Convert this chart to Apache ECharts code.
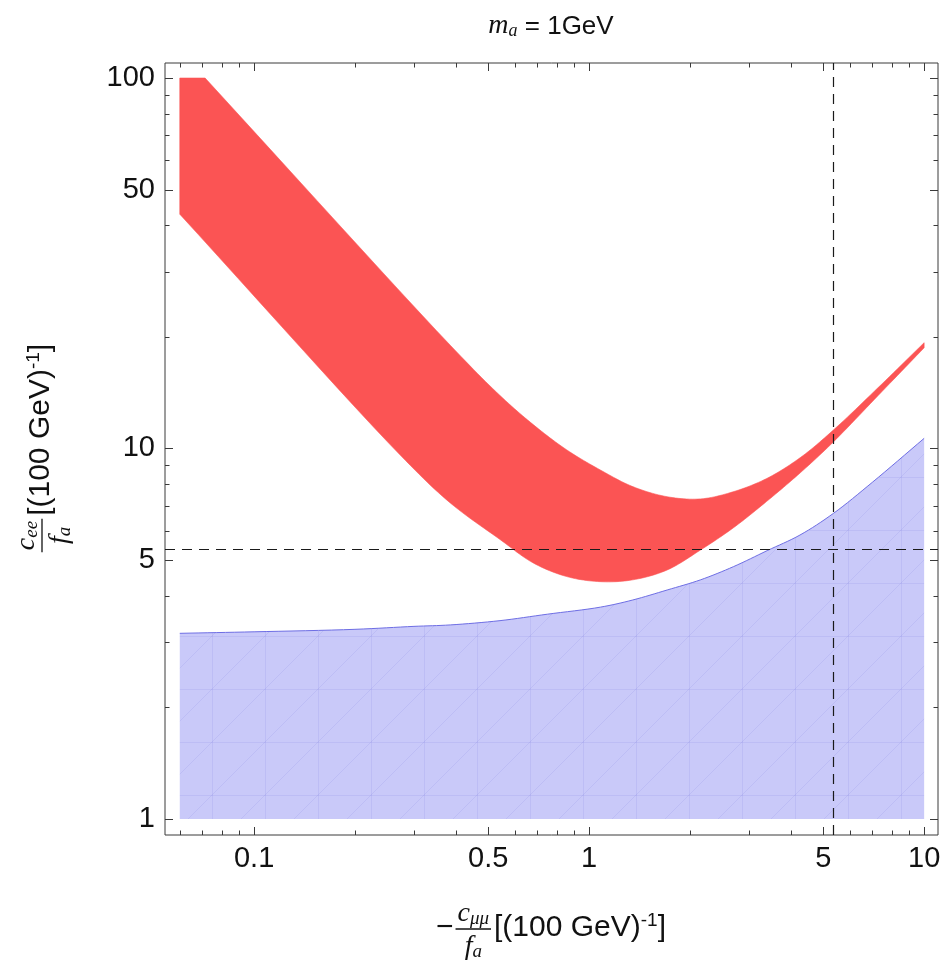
<!DOCTYPE html>
<html>
<head>
<meta charset="utf-8">
<script src="https://cdn.jsdelivr.net/npm/echarts@6/dist/echarts.min.js"></script>
<style>
  html, body { margin: 0; padding: 0; background: #fff; }
  #chart { width: 944px; height: 973px; }
</style>
</head>
<body>
<div id="chart"></div>
<script>
// ---- axis ranges (log10 scales) ----
const xRange = [0.0542, 11.0];
const yRange = [0.905, 109.8];

// ---- tick values ----
const xLabelValues = [0.1, 0.5, 1, 5, 10];
const yLabelValues = [1, 5, 10, 50, 100];
const xMinorTicks = [0.06, 0.07, 0.08, 0.09, 0.2, 0.3, 0.4, 0.6, 0.7, 0.8, 0.9, 2, 3, 4, 6, 7, 8, 9];
const yMinorTicks = [2, 3, 4, 6, 7, 8, 9, 20, 30, 40, 60, 70, 80, 90];

// ---- red band: upper and lower boundaries ----
const redUpperX = [0.06, 0.0714, 0.385, 0.542, 0.681, 0.858, 1.08, 1.35, 1.71, 2.15, 2.69, 3.39, 4.27, 5.35, 7.29, 10];
const redUpperY = [100, 100, 19.0, 13.9, 11.6, 9.91, 8.75, 7.89, 7.41, 7.31, 7.64, 8.30, 9.45, 11.2, 14.6, 19.3];
const redLowerX = [0.06, 0.273, 0.385, 0.542, 0.681, 0.858, 1.08, 1.35, 1.71, 2.15, 2.69, 3.39, 4.27, 5.35, 7.29, 10];
const redLowerY = [42.9, 9.60, 7.13, 5.68, 4.91, 4.51, 4.37, 4.42, 4.70, 5.32, 6.10, 7.20, 8.60, 10.4, 13.9, 18.7];

// ---- blue excluded region: upper boundary, filled down to floor ----
const blueX = [0.06, 0.1, 0.2, 0.3, 0.385, 0.542, 0.75, 1.08, 1.35, 1.71, 2.15, 2.70, 3.4, 4.26, 5.36, 7.0, 10];
const blueY = [3.17, 3.20, 3.25, 3.31, 3.34, 3.43, 3.57, 3.73, 3.90, 4.15, 4.42, 4.80, 5.30, 5.84, 6.68, 8.10, 10.65];
const blueFloor = 1;

// ---- reference lines ----
const refX = 5.35;
const refY = 5.35;

// ---- styling ----
const SANS = '"Liberation Sans", Arial, Helvetica, sans-serif';
const SERIF = '"Liberation Serif", "Times New Roman", serif';
const RED = '#fb5454';
const BLUE_FILL = '#c9c9f9';
const BLUE_EDGE = '#6e6ee4';
const FRAME = '#3a3a3a';

// faint triangulation-like texture for the blue fill
function makeMeshPattern() {
  const s = 53;
  const c = document.createElement('canvas');
  c.width = s; c.height = s;
  const g = c.getContext('2d');
  g.fillStyle = BLUE_FILL;
  g.fillRect(0, 0, s, s);
  g.strokeStyle = 'rgba(120,120,220,0.15)';
  g.lineWidth = 1;
  g.beginPath();
  g.moveTo(0.5, 0); g.lineTo(0.5, s);
  g.moveTo(0, 0.5); g.lineTo(s, 0.5);
  g.moveTo(0, s); g.lineTo(s, 0);
  g.stroke();
  return c;
}
const meshPattern = { image: makeMeshPattern(), repeat: 'repeat' };

// centripetal Catmull-Rom smoothing of pixel polylines (drawing only)
function smoothPath(pts, seg) {
  const n = pts.length;
  if (n < 3) return pts.slice();
  const ext = [
    [2 * pts[0][0] - pts[1][0], 2 * pts[0][1] - pts[1][1]],
    ...pts,
    [2 * pts[n - 1][0] - pts[n - 2][0], 2 * pts[n - 1][1] - pts[n - 2][1]]
  ];
  const knot = (a, b) => Math.max(Math.sqrt(Math.hypot(b[0] - a[0], b[1] - a[1])), 1e-6);
  const lerp = (a, b, ta, tb, t) => {
    const u = (t - ta) / (tb - ta);
    return [a[0] + (b[0] - a[0]) * u, a[1] + (b[1] - a[1]) * u];
  };
  const out = [pts[0]];
  for (let i = 1; i < ext.length - 2; i++) {
    const p0 = ext[i - 1], p1 = ext[i], p2 = ext[i + 1], p3 = ext[i + 2];
    const t0 = 0, t1 = t0 + knot(p0, p1), t2 = t1 + knot(p1, p2), t3 = t2 + knot(p2, p3);
    for (let k = 1; k <= seg; k++) {
      const t = t1 + (t2 - t1) * k / seg;
      const a1 = lerp(p0, p1, t0, t1, t), a2 = lerp(p1, p2, t1, t2, t), a3 = lerp(p2, p3, t2, t3, t);
      const b1 = lerp(a1, a2, t0, t2, t), b2 = lerp(a2, a3, t1, t3, t);
      out.push(lerp(b1, b2, t1, t2, t));
    }
  }
  return out;
}

function toPixels(api, xs, ys) {
  return xs.map((x, i) => api.coord([x, ys[i]]));
}

// text measuring for composing the axis titles
const measureCtx = document.createElement('canvas').getContext('2d');
function textWidth(font, s) { measureCtx.font = font; return measureCtx.measureText(s).width; }

const BIG = 30, VAR = 28, SUB = 19, SUP = 19;
const fracRich = {
  v: { fontFamily: SERIF, fontStyle: 'italic', fontSize: VAR, lineHeight: 30, verticalAlign: 'bottom', fill: '#111' },
  s: { fontFamily: SERIF, fontStyle: 'italic', fontSize: SUB, lineHeight: 14, verticalAlign: 'bottom', fill: '#111' }
};
const unitRich = {
  n: { fontFamily: SANS, fontSize: BIG, lineHeight: 34, fill: '#111' },
  p: { fontFamily: SANS, fontSize: SUP, lineHeight: 14, verticalAlign: 'top', fill: '#111' }
};
const unitText = '{n|[(100 GeV)}{p|-1}{n|]}';
const unitWidth = textWidth(BIG + 'px ' + SANS, '[(100 GeV)') + textWidth(SUP + 'px ' + SANS, '-1') + textWidth(BIG + 'px ' + SANS, ']');

function fracWidth(numVar, numSub, denVar, denSub) {
  const it = 'italic ';
  const nw = textWidth(it + VAR + 'px ' + SERIF, numVar) + textWidth(it + SUB + 'px ' + SERIF, numSub);
  const dw = textWidth(it + VAR + 'px ' + SERIF, denVar) + textWidth(it + SUB + 'px ' + SERIF, denSub);
  return Math.max(nw, dw) + 4;
}

function textEl(x, y, text, rich, align, valign) {
  return {
    type: 'text', x: x, y: y, silent: true,
    style: { text: text, rich: rich, align: align, textAlign: align, verticalAlign: valign, textVerticalAlign: valign, fill: '#111' }
  };
}

// builds "[sign] num/den [(100 GeV)^-1]" with the fraction bar on y = 0, centered on x = 0
function buildAxisTitle(sign, numVar, numSub, denVar, denSub) {
  const wSign = sign ? textWidth(BIG + 'px ' + SANS, sign) + 2 : 0;
  const wFrac = fracWidth(numVar, numSub, denVar, denSub);
  const total = wSign + wFrac + 3 + unitWidth;
  let x = -total / 2;
  const kids = [];
  if (sign) {
    kids.push(textEl(x, -1, '{n|' + sign + '}', unitRich, 'left', 'middle'));
    x += wSign;
  }
  const cx = x + wFrac / 2;
  kids.push({ type: 'line', silent: true, shape: { x1: x, y1: 0, x2: x + wFrac, y2: 0 }, style: { stroke: '#111', lineWidth: 1.3 } });
  kids.push(textEl(cx, -1, '{v|' + numVar + '}{s|' + numSub + '}', fracRich, 'center', 'bottom'));
  kids.push(textEl(cx, 2, '{v|' + denVar + '}{s|' + denSub + '}', fracRich, 'center', 'top'));
  x += wFrac + 3;
  kids.push(textEl(x, -1, unitText, unitRich, 'left', 'middle'));
  return kids;
}

const fmt = v => String(+Number(v).toPrecision(6));

const chart = echarts.init(document.getElementById('chart'));

chart.setOption({
  animation: false,
  backgroundColor: '#ffffff',
  grid: { left: 165, top: 63, width: 773, height: 772, show: true, borderColor: FRAME, borderWidth: 1, backgroundColor: 'transparent' },
  xAxis: {
    type: 'log', logBase: 10, min: xRange[0], max: xRange[1],
    axisLine: { show: false }, axisTick: { show: false }, splitLine: { show: false },
    axisLabel: { customValues: xLabelValues, formatter: fmt, fontSize: 29, fontFamily: SANS, color: '#111', margin: 9 }
  },
  yAxis: {
    type: 'log', logBase: 10, min: yRange[0], max: yRange[1],
    axisLine: { show: false }, axisTick: { show: false }, splitLine: { show: false },
    axisLabel: { customValues: yLabelValues, formatter: fmt, fontSize: 29, fontFamily: SANS, color: '#111', margin: 10 }
  },
  graphic: [
    {
      type: 'text', x: 551, y: 25, silent: true,
      style: {
        text: '{i|m}{s|a}{n| = 1GeV}',
        align: 'center', textAlign: 'center', verticalAlign: 'middle', textVerticalAlign: 'middle',
        rich: {
          i: { fontFamily: SERIF, fontStyle: 'italic', fontSize: 28, lineHeight: 30, verticalAlign: 'bottom', fill: '#111' },
          s: { fontFamily: SERIF, fontStyle: 'italic', fontSize: 18, lineHeight: 12, verticalAlign: 'bottom', fill: '#111' },
          n: { fontFamily: SANS, fontSize: 26, lineHeight: 30, verticalAlign: 'bottom', fill: '#111' }
        }
      }
    },
    { type: 'group', x: 551, y: 929, children: buildAxisTitle('\u2212', 'c', '\u03bc\u03bc', 'f', 'a') },
    { type: 'group', x: 42, y: 448, rotation: Math.PI / 2, children: buildAxisTitle('', 'c', 'ee', 'f', 'a') }
  ],
  series: [
    {
      // excluded region
      type: 'custom', name: 'excluded', silent: true, z: 1,
      data: blueX.map((x, i) => [x, blueY[i]]),
      renderItem(params, api) {
        if (params.dataIndex !== 0) return null;
        const top = smoothPath(toPixels(api, blueX, blueY), 8);
        const right = api.coord([blueX[blueX.length - 1], blueFloor]);
        const left = api.coord([blueX[0], blueFloor]);
        return {
          type: 'group',
          children: [
            { type: 'polygon', shape: { points: top.concat([right, left]) }, style: { fill: meshPattern, stroke: null } },
            { type: 'polyline', shape: { points: top }, style: { stroke: BLUE_EDGE, lineWidth: 1, fill: null } }
          ]
        };
      }
    },
    {
      // allowed band
      type: 'custom', name: 'band', silent: true, z: 2,
      data: redUpperX.map((x, i) => [x, redUpperY[i]]),
      renderItem(params, api) {
        if (params.dataIndex !== 0) return null;
        const upPx = toPixels(api, redUpperX, redUpperY);
        // flat cap along the top, then the smooth edge
        const up = [upPx[0]].concat(smoothPath(upPx.slice(1), 12));
        const lo = smoothPath(toPixels(api, redLowerX, redLowerY), 12);
        return {
          type: 'polygon',
          shape: { points: up.concat(lo.reverse()) },
          style: { fill: RED, stroke: RED, lineWidth: 0.6 }
        };
      }
    },
    {
      type: 'line', name: 'reference', data: [], silent: true, z: 3,
      markLine: {
        silent: true, symbol: ['none', 'none'], label: { show: false },
        lineStyle: { color: '#1a1a1a', width: 1.2, type: [10, 7] },
        data: [{ xAxis: refX }, { yAxis: refY }]
      }
    },
    {
      // frame ticks on all four sides
      type: 'custom', name: 'ticks', silent: true, z: 5,
      data: [[1, 1]],
      renderItem(params, api) {
        const cs = params.coordSys;
        const x0 = cs.x, x1 = cs.x + cs.width, y0 = cs.y, y1 = cs.y + cs.height;
        const kids = [];
        const st = { stroke: FRAME, lineWidth: 1 };
        const addX = (v, len) => {
          const px = Math.round(api.coord([v, yRange[0]])[0]) + 0.5;
          kids.push({ type: 'line', shape: { x1: px, y1: y1, x2: px, y2: y1 - len }, style: st });
          kids.push({ type: 'line', shape: { x1: px, y1: y0, x2: px, y2: y0 + len }, style: st });
        };
        const addY = (v, len) => {
          const py = Math.round(api.coord([xRange[0], v])[1]) + 0.5;
          kids.push({ type: 'line', shape: { x1: x0, y1: py, x2: x0 + len, y2: py }, style: st });
          kids.push({ type: 'line', shape: { x1: x1, y1: py, x2: x1 - len, y2: py }, style: st });
        };
        xLabelValues.forEach(v => addX(v, 8));
        xMinorTicks.forEach(v => addX(v, 4.5));
        yLabelValues.forEach(v => addY(v, 8));
        yMinorTicks.forEach(v => addY(v, 4.5));
        return { type: 'group', children: kids };
      }
    }
  ]
});
</script>
</body>
</html>
